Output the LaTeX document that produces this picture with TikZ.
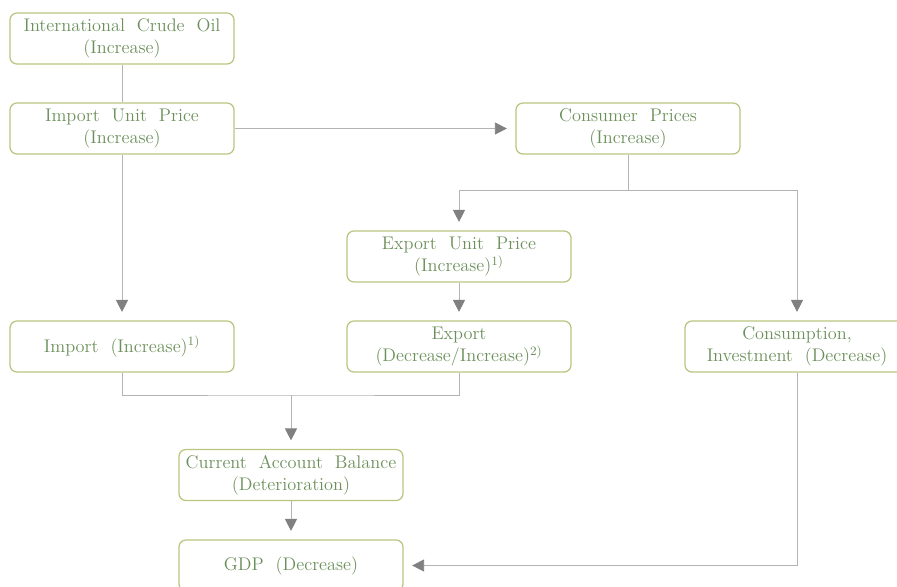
\documentclass[tikz,border=0pt]{standalone}
\usepackage{amsmath}
\usetikzlibrary{arrows.meta}
\definecolor{boxline}{RGB}{186,198,128}
\definecolor{boxtext}{RGB}{108,144,90}
\definecolor{linkgray}{RGB}{180,180,180}
\definecolor{tipgray}{RGB}{128,128,128}

\begin{document}
\begin{tikzpicture}[x=0.025cm,y=-0.025cm]
            \useasboundingbox (0,0) rectangle (897,587);
            \begin{scope}[every node/.style={draw=boxline,line width=0.9pt,rounded corners=5pt,fill=white,text=boxtext,align=center,minimum width=5.6cm,minimum height=1.275cm,inner sep=2pt,font=\fontsize{13}{15.5}\selectfont}]
                \node (oil) at (122,38.5) {International\ \ Crude\ \ Oil\\(Increase)};
                \node (iup) at (122,128.5) {Import\ \ Unit\ \ Price\\(Increase)};
                \node (cp) at (628,128.5) {Consumer\ \ Prices\\(Increase)};
                \node (eup) at (459,256.5) {Export\ \ Unit\ \ Price\\(Increase)\textsuperscript{1)}};
                \node (imp) at (122,346.5) {Import\ \ (Increase)\textsuperscript{1)}};
                \node (exp) at (459,346.5) {Export\\(Decrease/Increase)\textsuperscript{2)}};
                \node (ci) at (797,346.5) {Consumption,\\Investment\ \ (Decrease)};
                \node (cab) at (291,475) {Current\ \ Account\ \ Balance\\(Deterioration)};
                \node (gdp) at (291,565.5) {GDP\ \ (Decrease)};
            \end{scope}
            \coordinate (cpdown) at (628,190);
            \coordinate (trade) at (291,395);
            \begin{scope}[every edge/.style={draw=linkgray,line width=0.6pt},
                          >={Triangle[width=0.3cm,length=0.3cm,fill=tipgray,color=tipgray]}]
                \path [-] (oil) edge node {} (iup);
                \path [->,shorten >=6pt] (iup) edge node {} (cp);
                \path [->,shorten >=6pt] (iup) edge node {} (imp);
                \path [->,shorten >=6pt] (eup) edge node {} (exp);
                \path [->,shorten >=6pt] (cab) edge node {} (gdp);

                \path [-] (cp) edge node {} (cpdown);
                \path [->,shorten >=6pt] (cpdown) edge[to path={-| (\tikztotarget)}] node {} (eup);
                \path [->,shorten >=6pt] (cpdown) edge[to path={-| (\tikztotarget)}] node {} (ci);

                \path [-] (imp) edge[to path={|- (trade) -| (\tikztotarget)}] node {} (exp);
                \path [->,shorten >=6pt] (trade) edge node {} (cab);

                \path [->,shorten >=6pt] (ci) edge[to path={|- (\tikztotarget)}] node {} (gdp);
            \end{scope}
        \end{tikzpicture}
\end{document}
